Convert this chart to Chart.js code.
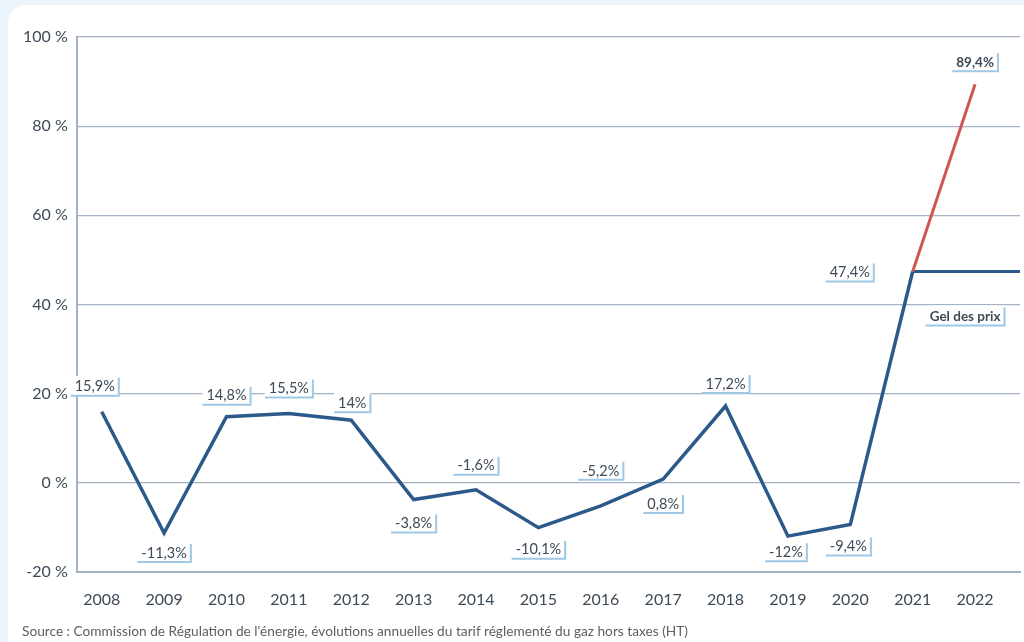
<!DOCTYPE html>
<html>
<head>
<meta charset="utf-8">
<script src="https://cdn.jsdelivr.net/npm/chart.js@4"></script>
<style>
  html, body { margin: 0; padding: 0; background: #eaf4fa; }
  #wrap { position: absolute; left: 8px; top: 5px; width: 1016px; height: 637px; background: #ffffff; border-top-left-radius: 18px; }
  #box { position: absolute; left: -8px; top: -5px; width: 1024px; height: 627px; }
  #source { position: absolute; left: 14px; top: 617px; font-family: Lato, sans-serif; font-size: 13.7px; color: #5a5f66; }
</style>
</head>
<body>
<div id="wrap">
  <div id="box"><canvas id="chart"></canvas></div>
  <div id="source">Source : Commission de Régulation de l'énergie, évolutions annuelles du tarif réglementé du gaz hors taxes (HT)</div>
</div>
<script>
const years = [2008, 2009, 2010, 2011, 2012, 2013, 2014, 2015, 2016, 2017, 2018, 2019, 2020, 2021];
const values = [15.9, -11.3, 14.8, 15.5, 14, -3.8, -1.6, -10.1, -5.2, 0.8, 17.2, -12, -9.4, 47.4];
const spikeYears = [2021, 2022];
const spikeValues = [47.4, 89.4];
const freezeYears = [2021, 2022.72];
const freezeValues = [47.4, 47.4];
const valueLabels = ['15,9%', '-11,3%', '14,8%', '15,5%', '14%', '-3,8%', '-1,6%', '-10,1%', '-5,2%', '0,8%', '17,2%', '-12%', '-9,4%', '47,4%'];
const spikeLabel = '89,4%';
const freezeLabel = 'Gel des prix';

// label offsets in pixels from the point
const labelOffsets = [
  [-7, -26], [0, 19], [0, -22], [0, -26], [1, -18], [0, 23], [0, -25],
  [0, 21], [0, -36], [0, 24], [0, -23], [-2, 15], [-2, 21], [-63, 0]
];

const textColor = '#3d4a57';
const gridColor = '#a3b3c3';

function pts(xs, ys) {
  return xs.map((x, i) => ({ x: x, y: ys[i] }));
}

function drawTag(ctx, text, cx, cy, bold) {
  ctx.save();
  ctx.font = (bold ? 'bold 13.5px' : '14.5px') + ' Lato, sans-serif';
  const w = ctx.measureText(text).width + 8;
  const h = 20;
  const x = cx - w / 2;
  const y = cy - h / 2;
  ctx.fillStyle = '#ffffff';
  ctx.fillRect(x, y, w, h);
  ctx.strokeStyle = '#9ec8e6';
  ctx.lineWidth = 2;
  ctx.beginPath();
  ctx.moveTo(x, y + h);
  ctx.lineTo(x + w, y + h);
  ctx.lineTo(x + w, y + 2);
  ctx.stroke();
  ctx.fillStyle = textColor;
  ctx.textAlign = 'center';
  ctx.textBaseline = 'middle';
  ctx.fillText(text, cx, cy + 1);
  ctx.restore();
}

const tagPlugin = {
  id: 'tags',
  afterDatasetsDraw(chart) {
    const ctx = chart.ctx;
    const xs = chart.scales.x;
    const ys = chart.scales.y;
    years.forEach((yr, i) => {
      const px = xs.getPixelForValue(yr);
      const py = ys.getPixelForValue(values[i]);
      drawTag(ctx, valueLabels[i], px + labelOffsets[i][0], py + labelOffsets[i][1], false);
    });
    drawTag(ctx, spikeLabel, xs.getPixelForValue(2022), ys.getPixelForValue(89.4) - 23, true);
    drawTag(ctx, freezeLabel, xs.getPixelForValue(2022) - 10, ys.getPixelForValue(47.4) + 44, true);
  }
};

new Chart(document.getElementById('chart'), {
  type: 'line',
  data: {
    datasets: [
      {
        data: pts(spikeYears, spikeValues),
        borderColor: '#d0574f',
        borderWidth: 3,
        pointRadius: 0,
        tension: 0
      },
      {
        data: pts(freezeYears, freezeValues),
        borderColor: '#2b5a8a',
        borderWidth: 3,
        pointRadius: 0,
        tension: 0
      },
      {
        data: pts(years, values),
        borderColor: '#2b5a8a',
        borderWidth: 3.5,
        pointRadius: 0,
        tension: 0,
        borderJoinStyle: 'miter'
      }
    ]
  },
  options: {
    responsive: true,
    maintainAspectRatio: false,
    animation: false,
    layout: { padding: { left: 14, right: 4, top: 37, bottom: 0 } },
    plugins: {
      legend: { display: false },
      tooltip: { enabled: false }
    },
    scales: {
      x: {
        type: 'linear',
        min: 2007.6,
        max: 2022.72,
        afterBuildTicks: function(axis) {
          axis.ticks = years.concat([2022]).map(v => ({ value: v }));
        },
        grid: { display: false, drawTicks: false },
        border: { display: true, color: gridColor, width: 2 },
        ticks: {
          color: textColor,
          padding: 18,
          font: { family: 'Lato, sans-serif', size: 16 },
          callback: function(v) { return String(v); }
        }
      },
      y: {
        min: -20,
        max: 100,
        grid: { color: gridColor, lineWidth: 1.2, drawTicks: false },
        border: { display: true, color: gridColor, width: 2 },
        ticks: {
          stepSize: 20,
          color: textColor,
          padding: 9,
          font: { family: 'Lato, sans-serif', size: 16 },
          callback: function(v) { return v + ' %'; }
        }
      }
    }
  },
  plugins: [tagPlugin]
});
</script>
</body>
</html>
